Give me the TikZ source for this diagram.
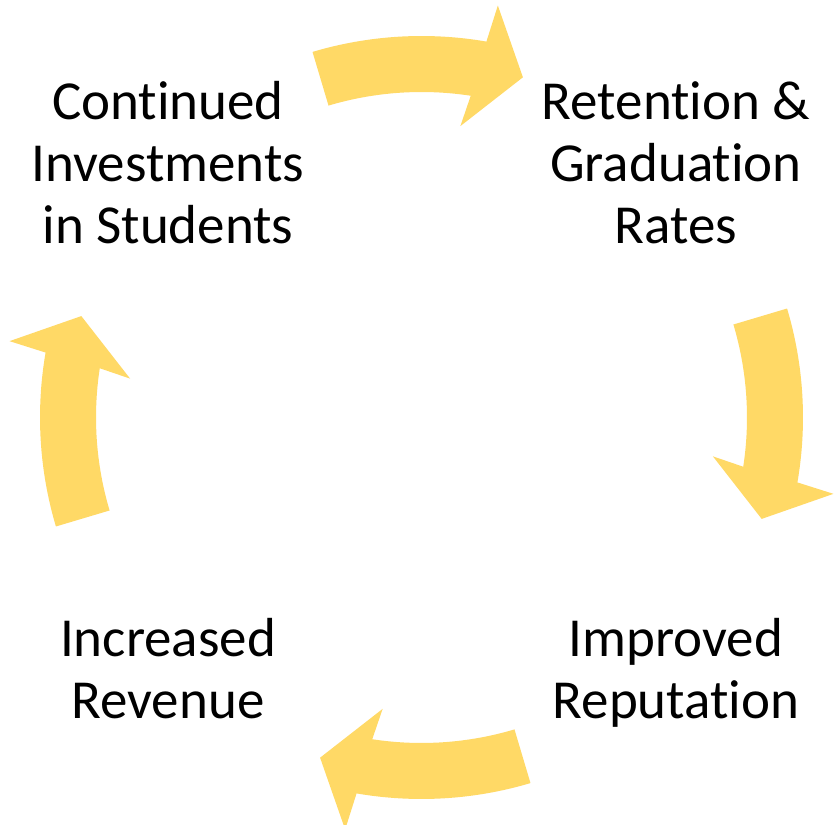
\documentclass[tikz,border=0pt]{standalone}
\usepackage{fontspec}
\setmainfont{Carlito}[Ligatures=NoCommon]
\definecolor{gold}{HTML}{FFD966}

% one curved block arrow on the ring, turned by #1 degrees
\newcommand{\ringarrow}[1]{%
  \begin{scope}[shift={(hub)},rotate=#1]
    \fill [gold] (16.6:325.5) -- (16.6:381.5)
      arc [start angle=16.6, end angle=-9.8, radius=381.5]
      -- (-10.5:419) -- (-16.6:355) -- (-7.6:294) -- (-8.7:325.5)
      arc [start angle=-8.7, end angle=16.6, radius=325.5] -- cycle;
  \end{scope}}

\begin{document}
\begin{tikzpicture}[x=1pt,y=1pt]
  \tikzstyle{every node}+=[inner sep=0pt]
  \tikzstyle{step text}=[anchor=base, align=center, font=\fontsize{55}{62}\selectfont]
  \fill [white] (0,0) rectangle (836,825);
  \useasboundingbox (0,0) rectangle (836,825);
  \coordinate (hub) at (421.5,407.5);
  % the four steps (base is the last line)
  \node [step text] (invest) at (168,581) {Continued\\Investments\\in Students};
  \node [step text] (retention) at (676,581) {Retention \&\\Graduation\\Rates};
  \node [step text] (reputation) at (676,106) {Improved\\Reputation};
  \node [step text] (revenue) at (168,106) {Increased\\Revenue};
  % arrows going round clockwise
  \ringarrow{0}
  \ringarrow{90}
  \ringarrow{180}
  \ringarrow{270}
\end{tikzpicture}
\end{document}
